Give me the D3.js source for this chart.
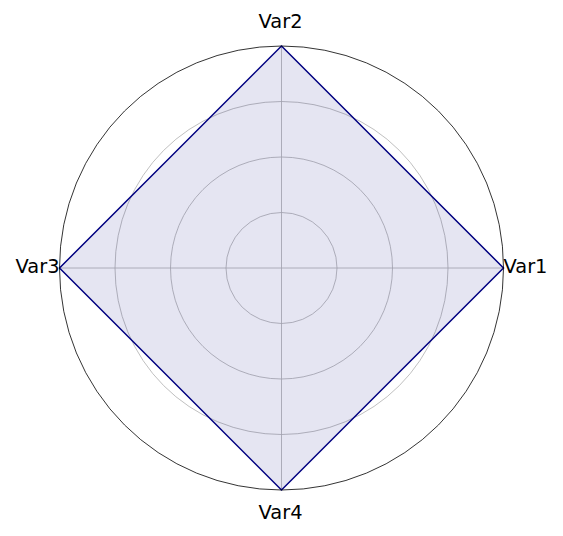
<!DOCTYPE html>
<html><head><meta charset="utf-8">
<script src="https://cdn.jsdelivr.net/npm/d3@7"></script>
<style>html,body{margin:0;padding:0;background:#fff;}svg{display:block;}</style>
</head><body>
<svg id="c" width="563" height="536"></svg>
<script>
const categories = ["Var1", "Var2", "Var3", "Var4"];
const values = [4, 4, 4, 4];
const gridTicks = [1, 2, 3];
const maxValue = 4;

const W = 563, H = 536, cx = 281.5, cy = 268, R = 222;
const svg = d3.select("#c");
const g = svg.append("g").attr("transform", `translate(${cx},${cy})`);
const r = d3.scaleLinear().domain([0, maxValue]).range([0, R]);
const angle = d3.scaleLinear().domain([0, categories.length]).range([0, 2 * Math.PI]);
// matplotlib polar: angle 0 at right, counterclockwise
const px = (a, v) => r(v) * Math.cos(a);
const py = (a, v) => -r(v) * Math.sin(a);

// grid circles
g.selectAll("circle.grid").data(gridTicks).join("circle")
  .attr("r", d => r(d)).attr("fill", "none")
  .attr("stroke", "#b0b0b0").attr("stroke-width", 0.8);
// radial gridlines
g.selectAll("line.spoke").data(categories).join("line")
  .attr("x1", 0).attr("y1", 0)
  .attr("x2", (d, i) => px(angle(i), maxValue))
  .attr("y2", (d, i) => py(angle(i), maxValue))
  .attr("stroke", "#b0b0b0").attr("stroke-width", 0.8);

// area
const pts = values.map((v, i) => [px(angle(i), v), py(angle(i), v)]);
const line = d3.line().curve(d3.curveLinearClosed);
g.append("path").attr("d", line(pts)).attr("fill", "navy").attr("fill-opacity", 0.1).attr("stroke", "none");
g.append("path").attr("d", line(pts)).attr("fill", "none").attr("stroke", "navy").attr("stroke-width", 1.5);

// outer spine
g.append("circle").attr("r", r(maxValue)).attr("fill", "none").attr("stroke", "#000").attr("stroke-width", 0.8);

// labels
const fs = 19.4;
categories.forEach((c, i) => {
  const a = angle(i);
  const ca = Math.cos(a), sa = Math.sin(a);
  let x = px(a, maxValue), y = py(a, maxValue);
  let anchor = "middle", dy = "0.35em";
  if (Math.abs(ca) > 0.5) { anchor = ca > 0 ? "start" : "end"; y += 5; dy = "0"; }
  else if (sa > 0) { y -= 18; dy = "0"; x -= 1; }
  else { y += 29; dy = "0"; x -= 1; }
  g.append("text").attr("x", x).attr("y", y).attr("dy", dy)
    .attr("text-anchor", anchor)
    .attr("font-family", "DejaVu Sans").attr("font-size", fs).attr("fill", "#000")
    .text(c);
});
</script>
</body></html>
